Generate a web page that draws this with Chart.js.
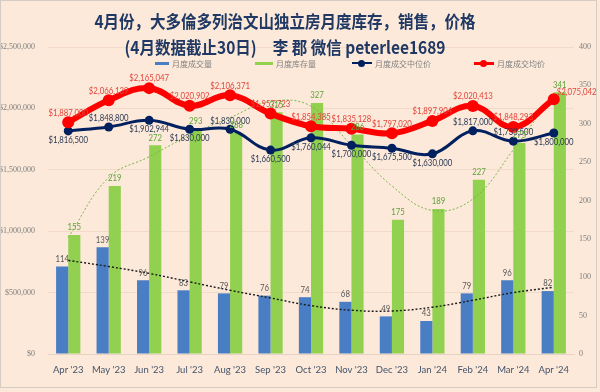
<!DOCTYPE html>
<html>
<head>
<meta charset="utf-8">
<script src="https://cdn.jsdelivr.net/npm/chart.js@4.4.0/dist/chart.umd.min.js"></script>
<style>
  html, body { margin: 0; padding: 0; background: #FCE9D9; }
  #wrap { position: relative; width: 600px; height: 392px; }
  #title { position: absolute; left: 0; top: 8px; width: 570px; text-align: center;
           font: bold 15.5px "Noto Sans CJK SC", sans-serif; color: #1F3864; line-height: 23px;
           transform: scaleY(1.12); transform-origin: top; }
  #legend { position: absolute; left: 0; top: 56px; width: 600px; height: 14px;
            font: 8px "Noto Sans CJK SC", sans-serif; color: #808080; }
  .lg { position: absolute; top: 0; display: flex; align-items: center; height: 14px; white-space: nowrap; }
  .sw { display: inline-block; margin-right: 3px; position: relative; }
  .dot { position: absolute; width: 7px; height: 7px; border-radius: 50%; left: 6px; top: -2.5px; }
</style>
</head>
<body>
<div id="wrap">
  <canvas id="c" width="600" height="392"></canvas>
  <div id="title">4月份，大多倫多列治文山独立房月度库存，销售，价格<br>(4月数据截止30日)<span style="margin-left:16px">李 郡 微信 peterlee1689</span></div>
  <div id="legend"></div>
</div>
<script>
// ── data ──
const months = ["Apr '23", "May '23", "Jun '23", "Jul '23", "Aug '23", "Sep '23", "Oct '23",
                "Nov '23", "Dec '23", "Jan '24", "Feb '24", "Mar '24", "Apr '24"];
const seriesNames = ['月度成交量', '月度库存量', '月度成交中位价', '月度成交均价'];

const sales     = [114, 139, 96, 83, 79, 76, 74, 68, 49, 43, 79, 96, 82];
const inventory = [155, 219, 272, 293, 288, 315, 327, 286, 175, 189, 227, 275, 341];
const medianPrice = [1816500, 1848800, 1902944, 1830000, 1830000, 1660500, 1760044,
                     1700000, 1675500, 1630000, 1817000, 1733500, 1800000];
const avgPrice    = [1887000, 2066139, 2165047, 2020902, 2106371, 1957723, 1854385,
                     1835128, 1797020, 1897904, 2020413, 1848293, 2075042];

// dotted trend curves, as drawn in the picture
const salesTrend     = [122, 114, 105, 94, 83, 73, 63, 57, 56, 61, 70, 80, 87];
const inventoryTrend = [152, 230, 257, 285, 308, 329, 323, 272, 219, 187, 202, 266, 340];

const priceTicks = [0, 500000, 1000000, 1500000, 2000000, 2500000];
const countTicks = [0, 50, 100, 150, 200, 250, 300, 350, 400];

// label placement per point
const medianLabelPos = ['bottom','top','bottom','bottom','top','bottom','bottom',
                        'bottom','bottom','bottom','top','top','bottom'];
const avgLabelPos = ['top','top','top','top','top','top','top','top','top','top','top','top','right'];

const COL = { blue: '#4A7EC4', green: '#92D050', navy: '#002060', red: '#FF0000' };
const money = v => '$' + v.toLocaleString('en-US');

// legend (html)
const lgItems = [
  { left: 155, sw: `<span class="sw" style="width:14px;height:3px;background:${COL.blue}"></span>` },
  { left: 255, sw: `<span class="sw" style="width:18px;height:3px;background:${COL.green}"></span>` },
  { left: 352, sw: `<span class="sw" style="width:20px;height:2px;background:${COL.navy}"><span class="dot" style="background:${COL.navy}"></span></span>` },
  { left: 474, sw: `<span class="sw" style="width:20px;height:3px;background:${COL.red}"><span class="dot" style="background:${COL.red};top:-2px"></span></span>` },
];
document.getElementById('legend').innerHTML = lgItems.map((it, i) =>
  `<div class="lg" style="left:${it.left}px">${it.sw}${seriesNames[i]}</div>`).join('');

// value labels (squeezed a bit, the original font is narrow)
const SQ = 0.82;
const valueLabels = {
  id: 'valueLabels',
  afterDatasetsDraw(chart) {
    const ctx = chart.ctx;
    chart.data.datasets.forEach((ds, i) => {
      const lab = ds.valueLabel;
      if (!lab) return;
      const meta = chart.getDatasetMeta(i);
      ctx.save();
      ctx.font = lab.font;
      ctx.fillStyle = lab.color;
      meta.data.forEach((el, j) => {
        const pos = lab.pos ? lab.pos[j] : 'top';
        let x = el.x, y = el.y;
        ctx.textAlign = 'center';
        if (pos === 'top') { ctx.textBaseline = 'bottom'; y -= lab.gap; }
        else if (pos === 'bottom') { ctx.textBaseline = 'top'; y += lab.gap; }
        else { ctx.textAlign = 'left'; ctx.textBaseline = 'middle'; x += 3; y -= 7; }
        ctx.save();
        ctx.translate(x, y);
        ctx.scale(SQ, 1);
        ctx.fillText(lab.fmt(ds.data[j]), 0, 0);
        ctx.restore();
      });
      ctx.restore();
    });
  }
};

const frame = {
  id: 'frame',
  afterDraw(chart) {
    const ctx = chart.ctx;
    ctx.save();
    ctx.strokeStyle = '#D5CCC4';
    ctx.lineWidth = 1;
    ctx.strokeRect(0.5, 0.5, 596, 387);
    ctx.restore();
  }
};

new Chart(document.getElementById('c'), {
  data: {
    labels: months,
    datasets: [
      { type: 'line', label: seriesNames[3], data: avgPrice, yAxisID: 'y1', order: 0,
        borderColor: COL.red, backgroundColor: COL.red, borderWidth: 6, tension: 0.4,
        pointRadius: 6, pointBackgroundColor: COL.red, pointBorderWidth: 0,
        valueLabel: { font: '9.5px Lato', color: '#E2463C', gap: 5, pos: avgLabelPos, fmt: money } },
      { type: 'line', label: seriesNames[2], data: medianPrice, yAxisID: 'y1', order: 1,
        borderColor: COL.navy, backgroundColor: COL.navy, borderWidth: 3, tension: 0.4,
        pointRadius: 4.5, pointBackgroundColor: COL.navy, pointBorderWidth: 0,
        valueLabel: { font: '9.5px Lato', color: '#2B3A55', gap: 4, pos: medianLabelPos, fmt: money } },
      { type: 'line', label: 'salesTrend', data: salesTrend, yAxisID: 'y2', order: 2,
        borderColor: '#1A1A1A', borderWidth: 1.4, borderDash: [2, 2], tension: 0.4, pointRadius: 0 },
      { type: 'line', label: 'inventoryTrend', data: inventoryTrend, yAxisID: 'y2', order: 2,
        borderColor: '#78B548', borderWidth: 1, borderDash: [2, 2], tension: 0.4, pointRadius: 0 },
      { type: 'bar', label: seriesNames[0], data: sales, yAxisID: 'y2', order: 3,
        backgroundColor: COL.blue, categoryPercentage: 0.6, barPercentage: 1.0,
        valueLabel: { font: '9.5px Lato', color: '#595959', gap: 3, fmt: v => v } },
      { type: 'bar', label: seriesNames[1], data: inventory, yAxisID: 'y2', order: 3,
        backgroundColor: COL.green, categoryPercentage: 0.6, barPercentage: 1.0,
        valueLabel: { font: '9.5px Lato', color: '#5FA33A', gap: 3, fmt: v => v } },
    ]
  },
  options: {
    responsive: false,
    animation: false,
    layout: { padding: { top: 47, left: 0, right: 0, bottom: 0 } },
    plugins: { legend: { display: false }, title: { display: false }, tooltip: { enabled: false } },
    scales: {
      x: {
        offset: true,
        grid: { display: false },
        border: { color: '#E6D3C4' },
        ticks: { color: '#44546A', font: { family: 'Lato', size: 9.5 }, padding: 2, maxRotation: 0 },
        afterFit: s => { s.height = 38; }
      },
      y1: {
        position: 'left', min: 0, max: 2500000,
        afterBuildTicks: s => { s.ticks = priceTicks.map(v => ({ value: v })); },
        grid: { color: '#F3D9C7', drawTicks: false },
        border: { display: false },
        ticks: { color: '#7F7F7F', font: { family: 'Liberation Serif', size: 8 }, padding: 13,
                 callback: v => money(v) },
        afterFit: s => { s.width = 48; }
      },
      y2: {
        position: 'right', min: 0, max: 400,
        afterBuildTicks: s => { s.ticks = countTicks.map(v => ({ value: v })); },
        grid: { drawOnChartArea: false, drawTicks: false },
        border: { display: false },
        ticks: { color: '#7F7F7F', font: { family: 'Liberation Serif', size: 8 }, padding: 5 },
        afterFit: s => { s.width = 26; }
      }
    }
  },
  plugins: [valueLabels, frame]
});
</script>
</body>
</html>
